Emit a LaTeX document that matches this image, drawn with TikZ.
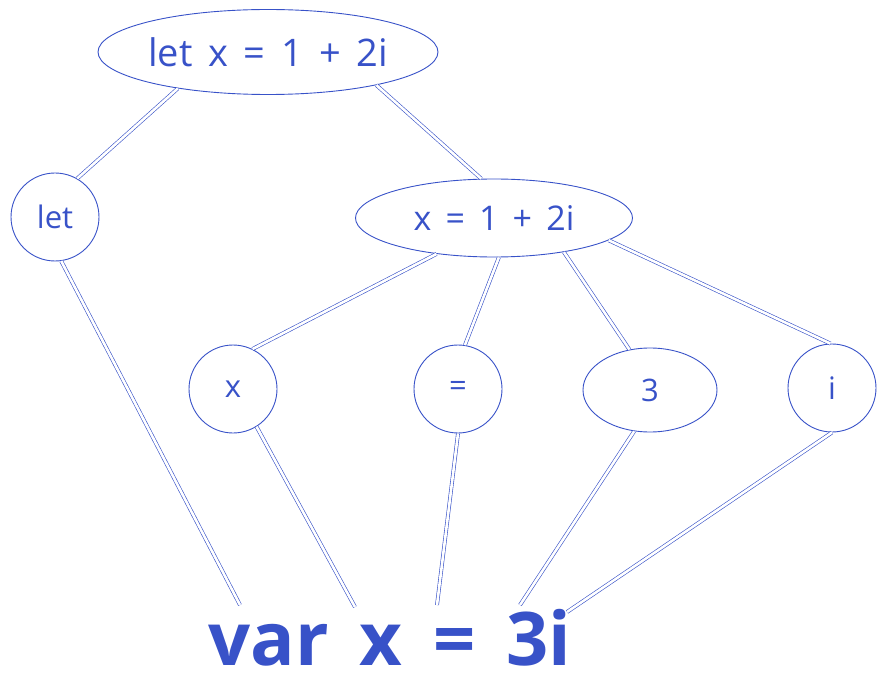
\documentclass[tikz,border=0pt]{standalone}
\usepackage{fontspec}
\setmainfont{Open Sans}[WordSpace=1.6]
\usetikzlibrary{shapes.geometric}
\definecolor{ink}{RGB}{56,82,200}

\begin{document}
\begin{tikzpicture}[x=1pt, y=-1pt, every node/.style={draw=ink, text=ink, circle, line width=0.9pt, minimum size=88pt, inner sep=0pt, font=\fontsize{31}{31}\selectfont}]
        \useasboundingbox (0,0) rectangle (884,695);
        % Define the nodes
        \node[ellipse, minimum width=340pt, minimum height=85pt, font=\fontsize{38}{38}\selectfont] (T) at (268,52) {let x = 1 + 2i};
        \node (L) at (55,217) {let};
        \node[ellipse, minimum width=277pt, minimum height=78pt, font=\fontsize{34}{34}\selectfont] (M) at (494,218) {x = 1 + 2i};
        \node (X) at (233,389) {x};
        \node (E) at (458,389) {=};
        \node[ellipse, minimum width=134pt, minimum height=84pt] (H) at (650,390) {3};
        \node (I) at (832,388) {i};
        \node[draw=none, font=\bfseries\fontsize{74}{74}\selectfont] (V) at (390,638) {var x = 3i};

        % where the lines meet the text
        \coordinate (v1) at (240,605);
        \coordinate (v2) at (355,607);
        \coordinate (v3) at (437,605);
        \coordinate (v4) at (520,605);
        \coordinate (v5) at (567,612);

        \begin{scope}[every path/.style={draw=ink, double=white, double distance=2.6pt, line width=0.6pt}]
        \draw (T.202) -- (L.60);
        \draw (T.343) -- (M.108);
        \draw (L.278) -- (v1);
        \draw (M.212) -- (X.64);
        \draw (M.277) -- (E.81);
        \draw (M.334) -- (H.117);
        \draw (M.349) -- (I.92);
        \draw (X.302) -- (v2);
        \draw (E.270) -- (v3);
        \draw (H.249) -- (v4);
        \draw (I.270) -- (v5);
        \end{scope}

    \end{tikzpicture}
\end{document}
